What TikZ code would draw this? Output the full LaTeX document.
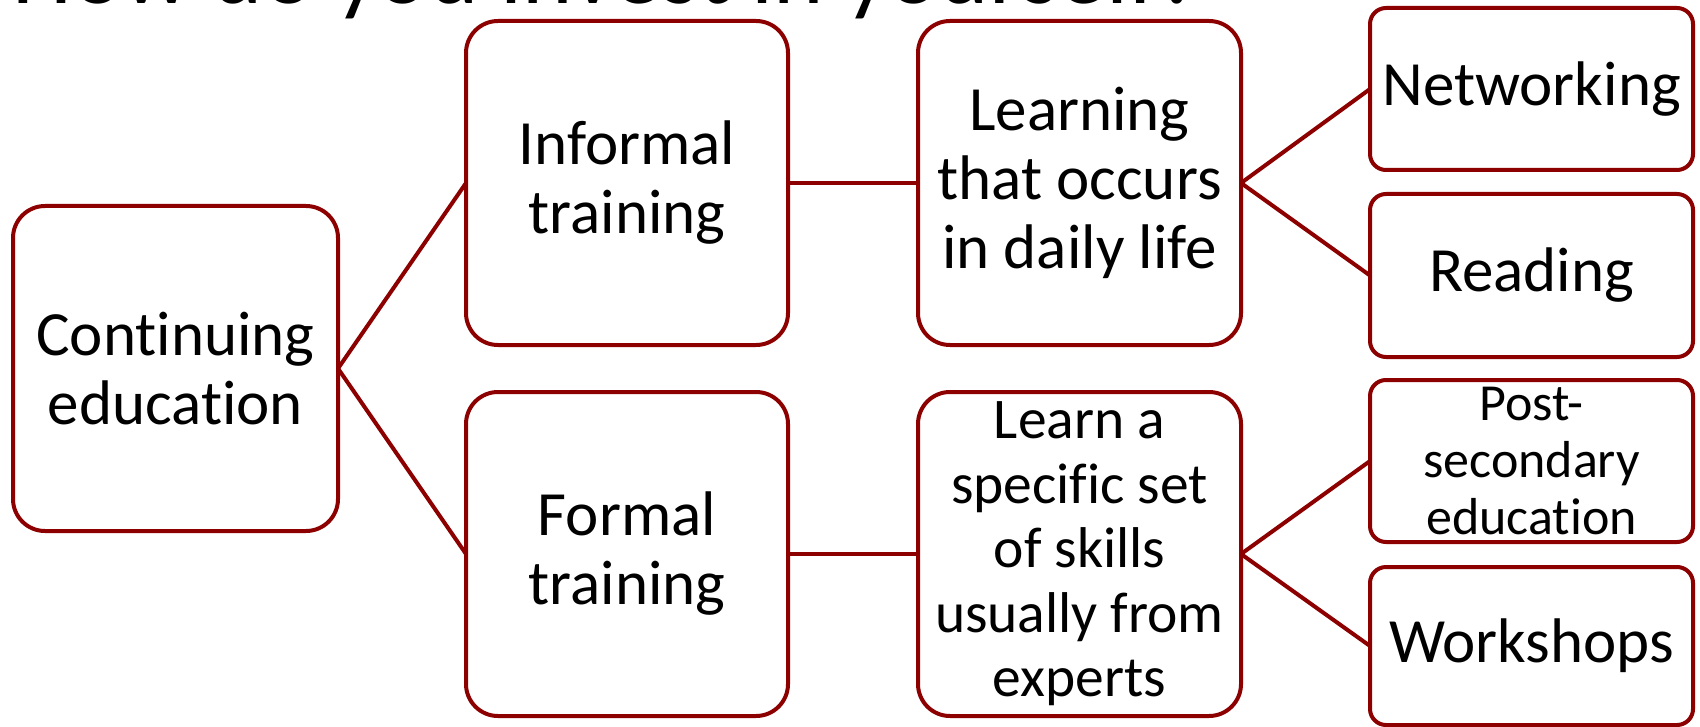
\documentclass[tikz,border=0pt]{standalone}
\usepackage{fontspec}
\setmainfont{Carlito}[Ligatures={NoCommon}]
\definecolor{boxred}{RGB}{140,0,0}
\begin{document}
\begin{tikzpicture}[x=0.5pt,y=-0.5pt,
  bigbox/.style={draw=boxred, line width=2pt, fill=white, rounded corners=16pt,
    inner sep=0pt, outer sep=0pt, align=center,
    font=\fontsize{31.5}{34.5}\selectfont},
  smallbox/.style={bigbox, rounded corners=8pt},
  link/.style={draw=boxred, line width=2pt}]
\useasboundingbox (0,0) rectangle (1700,727);
\begin{scope}
\clip (0,0) rectangle (1700,727);
\node[anchor=base west, inner sep=0pt, font=\fontsize{48}{58}\selectfont] (title) at (12,4) {How do you invest in yourself?};
\end{scope}
\node[bigbox, minimum width=162.5pt, minimum height=162.5pt] (ce) at (175.5,368.5) {Cont\kern0pt inuing\\educat\kern0pt ion};
\node[bigbox, minimum width=161pt, minimum height=162pt] (inf) at (627,183) {Informal\\training};
\node[bigbox, minimum width=161pt, minimum height=162pt] (frm) at (627,554) {Formal\\training};
\node[bigbox, minimum width=161.5pt, minimum height=162pt] (lrn) at (1079.5,183) {Learning\\that occurs\\in daily life};
\node[bigbox, minimum width=161.5pt, minimum height=162pt, font=\fontsize{28.75}{32.25}\selectfont] (spc) at (1079.5,554) {Learn a\\specific set\\of skills\\usually from\\experts};
\node[smallbox, minimum width=161.5pt, minimum height=81pt] (net) at (1531.5,89) {Networking};
\node[smallbox, minimum width=161.5pt, minimum height=81.5pt] (rd) at (1531.5,275.5) {Reading};
\node[smallbox, minimum width=161.5pt, minimum height=81pt, font=\fontsize{26}{28.5}\selectfont] (post) at (1531.5,461) {Post-\\secondary\\educat\kern0pt ion};
\node[smallbox, minimum width=161.5pt, minimum height=79pt] (ws) at (1531.5,646) {Workshops};
\draw[link] (ce.east) -- (inf.west);
\draw[link] (ce.east) -- (frm.west);
\draw[link] (inf.east) -- (lrn.west);
\draw[link] (frm.east) -- (spc.west);
\draw[link] (lrn.east) -- (net.west);
\draw[link] (lrn.east) -- (rd.west);
\draw[link] (spc.east) -- (post.west);
\draw[link] (spc.east) -- (ws.west);
\end{tikzpicture}
\end{document}
